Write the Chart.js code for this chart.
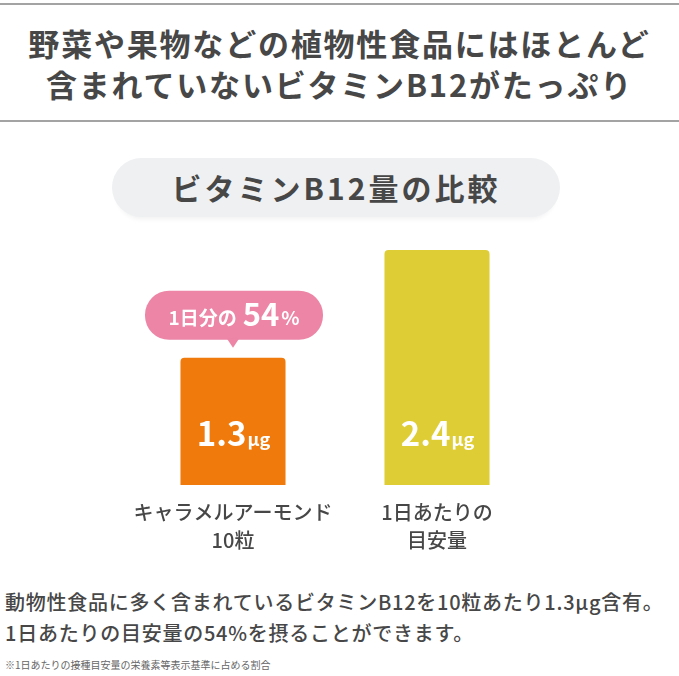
<!DOCTYPE html>
<html lang="ja">
<head>
<meta charset="utf-8">
<script src="https://cdn.jsdelivr.net/npm/chart.js@4"></script>
<style>
    html, body { margin: 0; padding: 0; background: #fff; }
    body {
        width: 679px; height: 676px; position: relative; overflow: hidden;
        font-family: "Noto Sans CJK JP", "Noto Sans", sans-serif; color: #474747;
    }
    .rule { position: absolute; left: 0; width: 679px; height: 2px; background: #a3a3a3; }
    .headline {
        position: absolute; left: 0; top: 22px; width: 679px; text-align: center;
        font-size: 31px; font-weight: 700; line-height: 41px; letter-spacing: 1.8px;
    }
    .pill {
        position: absolute; left: 112px; top: 158px; width: 448px; height: 59px;
        border-radius: 30px; background: #eef0f2;
        box-shadow: 0 7px 5px -5px rgba(0, 0, 0, 0.06);
        text-align: center; font-size: 30px; font-weight: 700; line-height: 59px;
        letter-spacing: 3px;
    }
    .note {
        position: absolute; left: 5px; top: 586px;
        font-size: 20px; font-weight: 500; line-height: 31px; letter-spacing: 0.75px;
    }
    .foot {
        position: absolute; left: 5px; top: 657px; font-size: 10px; color: #666;
    }
    #wrap { position: absolute; left: 0; top: 230px; width: 679px; height: 337px; }
</style>
</head>
<body>
<div class="rule" style="top:3px"></div>
<div class="headline">野菜や果物などの植物性食品にはほとんど<br>含まれていないビタミンB12がたっぷり</div>
<div class="rule" style="top:120px"></div>
<div class="pill">ビタミンB12量の比較</div>
<div id="wrap"><canvas id="chart" width="679" height="337"></canvas></div>
<div class="note">動物性食品に多く含まれているビタミンB12を10粒あたり1.3μg含有。<br>1日あたりの目安量の54%を摂ることができます。</div>
<div class="foot">※1日あたりの接種目安量の栄養素等表示基準に占める割合</div>

<script>
// 比較データ (μg)
var categories = [['キャラメルアーモンド', '10粒'], ['1日あたりの', '目安量']];
var values     = [1.3, 2.4];
var valueUnit  = 'μg';
var barColors  = ['#f07b0c', '#dfcd35'];
var calloutPre = '1日分の';
var calloutNum = '54';
var calloutPct = '%';

// 棒の中の数値ラベル + 吹き出し
var labelsPlugin = {
    id: 'barLabels',
    afterDatasetsDraw: function (chart) {
        var ctx = chart.ctx;
        var meta = chart.getDatasetMeta(0);
        ctx.save();
        ctx.textBaseline = 'alphabetic';
        meta.data.forEach(function (bar, i) {
            var num = values[i].toFixed(1);
            ctx.font = '700 33px "Noto Sans CJK JP"';
            var w1 = ctx.measureText(num).width;
            ctx.font = '700 18px "Noto Sans CJK JP"';
            var w2 = ctx.measureText(valueUnit).width;
            var x0 = bar.x - (w1 + w2) / 2;
            var y0 = bar.base - 39;
            ctx.fillStyle = '#fff';
            ctx.font = '700 33px "Noto Sans CJK JP"';
            ctx.fillText(num, x0, y0);
            ctx.font = '700 18px "Noto Sans CJK JP"';
            ctx.fillText(valueUnit, x0 + w1 + 1, y0);
        });

        // 吹き出し (1本目の棒の上)
        var b = meta.data[0];
        var bw = 178, bh = 49, r = 24;
        var tipY = b.y - 10;
        var bottom = tipY - 8;
        var top = bottom - bh;
        var left = b.x - bw / 2 + 1;
        ctx.fillStyle = '#ec85a6';
        ctx.beginPath();
        ctx.roundRect(left, top, bw, bh, r);
        ctx.fill();
        ctx.beginPath();
        ctx.moveTo(b.x - 6, bottom - 1);
        ctx.lineTo(b.x + 6, bottom - 1);
        ctx.lineTo(b.x, tipY);
        ctx.closePath();
        ctx.fill();

        ctx.fillStyle = '#fff';
        ctx.font = '700 19px "Noto Sans CJK JP"';
        var a = ctx.measureText(calloutPre).width;
        ctx.font = '700 31px "Noto Sans CJK JP"';
        var n = ctx.measureText(calloutNum).width;
        ctx.font = '700 19px "Noto Sans CJK JP"';
        var p = ctx.measureText(calloutPct).width;
        var tx = b.x + 1 - (a + 6 + n + 2 + p) / 2;
        var ty = top + 35;
        ctx.font = '700 19px "Noto Sans CJK JP"';
        ctx.fillText(calloutPre, tx, ty - 1);
        ctx.font = '700 31px "Noto Sans CJK JP"';
        ctx.fillText(calloutNum, tx + a + 6, ty);
        ctx.font = '700 19px "Noto Sans CJK JP"';
        ctx.fillText(calloutPct, tx + a + 6 + n + 2, ty - 1);
        ctx.restore();
    }
};

new Chart(document.getElementById('chart'), {
    type: 'bar',
    data: {
        labels: categories,
        datasets: [{
            data: values,
            backgroundColor: barColors,
            borderRadius: 4,
            barPercentage: 0.515,
            categoryPercentage: 1
        }]
    },
    options: {
        responsive: false,
        animation: false,
        events: [],
        layout: { padding: { left: 131, right: 140, top: 20, bottom: 8 } },
        plugins: { legend: { display: false }, tooltip: { enabled: false } },
        scales: {
            x: {
                grid: { display: false },
                border: { display: false },
                ticks: {
                    color: '#474747',
                    padding: 5,
                    maxRotation: 0,
                    minRotation: 0,
                    autoSkip: false,
                    font: { family: '"Noto Sans CJK JP"', size: 20, weight: '500', lineHeight: 1.4 }
                }
            },
            y: { display: false, min: 0, max: 2.4 }
        }
    },
    plugins: [labelsPlugin]
});
</script>
</body>
</html>
